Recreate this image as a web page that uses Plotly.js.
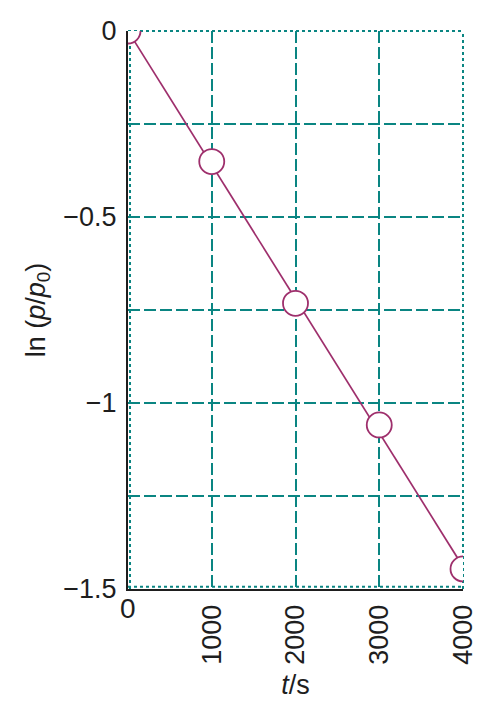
<!DOCTYPE html>
<html><head><meta charset="utf-8">
<script src="https://cdn.plot.ly/plotly-3.0.1.min.js"></script>
<style>html,body{margin:0;padding:0;background:#fff;}#chart{width:498px;height:708px;}</style>
</head><body><div id="chart"></div>
<script>
const timeS = [0, 1000, 2000, 3000, 4000];
const lnRatio = [0, -0.351, -0.732, -1.059, -1.446];
const fitT = [0, 4000];
const fitLn = [0, -1.44];
const xTickVals = [1000, 2000, 3000, 4000];
const xTickText = ['1000', '2000', '3000', '4000'];
const yTickVals = [-1.5, -1.25, -1, -0.75, -0.5, -0.25, 0];
const yTickText = ['\u22121.5', '', '\u22121', '', '\u22120.5', '', '0'];

const teal = '#0a8582';
const maroon = '#9e2f6c';
const font = 'Liberation Sans, Arial, sans-serif';
const txt = '#1e1e1e';

const traces = [
  {x: fitT, y: fitLn, mode: 'lines', line: {color: maroon, width: 1.7}, hoverinfo: 'skip', showlegend: false},
  {x: timeS, y: lnRatio, mode: 'markers', cliponaxis: true,
   marker: {symbol: 'circle', size: 25, color: '#ffffff', line: {color: maroon, width: 1.8}}, showlegend: false}
];

const layout = {
  width: 498, height: 708,
  margin: {l: 128, r: 35, t: 31, b: 119},
  paper_bgcolor: '#fff', plot_bgcolor: '#fff',
  font: {family: font, size: 27, color: txt},
  xaxis: {
    range: [0, 4000], tickvals: xTickVals, ticktext: xTickText, tickangle: -90,
    showgrid: true, gridcolor: teal, gridwidth: 2, griddash: '12px,4px',
    zeroline: false, showline: true, linecolor: txt, linewidth: 2,
    ticks: '', ticklabelstandoff: 3,
    tickfont: {family: font, size: 27, color: txt},
    title: {text: '<i>t</i>/s', font: {family: font, size: 27, color: txt}, standoff: 11}
  },
  yaxis: {
    range: [-1.5, 0], tickvals: yTickVals, ticktext: yTickText,
    showgrid: true, gridcolor: teal, gridwidth: 2, griddash: '12px,4px',
    zeroline: false, showline: true, linecolor: txt, linewidth: 2,
    ticks: '', ticklabelstandoff: 4,
    tickfont: {family: font, size: 27, color: txt},
    title: {text: 'ln (<i>p</i>/<i>p</i><sub>0</sub>)', font: {family: font, size: 27, color: txt}, standoff: 10}
  },
  shapes: [
    {type: 'line', xref: 'paper', yref: 'paper', x0: 0, x1: 1, y0: 1, y1: 1, line: {color: teal, width: 2, dash: 'dot'}, layer: 'below'},
    {type: 'line', xref: 'paper', yref: 'paper', x0: 1, x1: 1, y0: 0, y1: 1, line: {color: teal, width: 2, dash: 'dot'}, layer: 'below'},
    {type: 'line', xref: 'paper', yref: 'paper', x0: 0.006, x1: 0.006, y0: 0, y1: 1, line: {color: teal, width: 2, dash: 'dot'}, layer: 'below'},
    {type: 'line', xref: 'paper', yref: 'paper', x0: 0, x1: 1, y0: 0.004, y1: 0.004, line: {color: teal, width: 2, dash: 'dot'}, layer: 'below'}
  ],
  annotations: [
    {xref: 'x', yref: 'paper', x: 0, y: 0, text: '0', showarrow: false, yanchor: 'top', xanchor: 'center', yshift: -2,
     font: {family: font, size: 28, color: txt}}
  ]
};

Plotly.newPlot('chart', traces, layout, {displayModeBar: false, staticPlot: true});
</script>
</body></html>
